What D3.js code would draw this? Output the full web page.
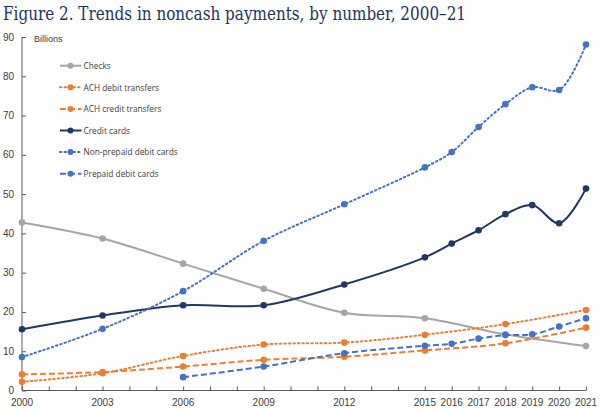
<!DOCTYPE html>
<html><head><meta charset="utf-8">
<script src="https://cdn.jsdelivr.net/npm/d3@7"></script>
<style>body{margin:0;background:#fff}svg{display:block}</style>
</head><body>
<svg id="c" width="600" height="410"></svg>
<script>
const years = [2000,2003,2006,2009,2012,2015,2016,2017,2018,2019,2020,2021];
const tickYears = [2000,2003,2006,2009,2012,2015,2016,2017,2018,2019,2020,2021];
const yTicks = [0,10,20,30,40,50,60,70,80,90];
const checksYears = [2000,2003,2006,2009,2012,2015,2018,2021];
const checks = [42.8,38.7,32.3,25.9,19.8,18.4,14.3,11.3];
const achYears = [2000,2003,2006,2009,2012,2015,2018,2021];
const achDebit = [2.2,4.4,8.8,11.7,12.2,14.2,16.9,20.5];
const achCredit = [4.1,4.7,6.1,7.8,8.6,10.2,12.0,16.0];
const creditYears = years;
const creditCards = [15.6,19.1,21.7,21.7,27.0,33.9,37.4,40.8,44.9,47.2,42.6,51.4];
const nonPrepaidYears = years;
const nonPrepaid = [8.5,15.7,25.3,38.1,47.4,56.8,60.7,67.1,72.9,77.2,76.5,88.1];
const prepaidYears = [2006,2009,2012,2015,2016,2017,2018,2019,2020,2021];
const prepaid = [3.4,6.1,9.5,11.4,11.9,13.2,14.1,14.3,16.3,18.4];

const seriesNames = ["Checks","ACH debit transfers","ACH credit transfers","Credit cards","Non-prepaid debit cards","Prepaid debit cards"];
const series = [
  {name:seriesNames[0], xs:checksYears, ys:checks, color:"#a5a5a5", dash:null},
  {name:seriesNames[1], xs:achYears, ys:achDebit, color:"#ed7d31", dash:"1.5,3"},
  {name:seriesNames[2], xs:achYears, ys:achCredit, color:"#ed7d31", dash:"6,3"},
  {name:seriesNames[3], xs:creditYears, ys:creditCards, color:"#203864", dash:null},
  {name:seriesNames[4], xs:nonPrepaidYears, ys:nonPrepaid, color:"#4472c4", dash:"1.5,3"},
  {name:seriesNames[5], xs:prepaidYears, ys:prepaid, color:"#4472c4", dash:"6,3"}
];

const svg = d3.select("#c");
const x = d3.scaleLinear().domain([2000,2021]).range([22,586]);
const y = d3.scaleLinear().domain([0,90]).range([390.5,37]);

svg.append("text").attr("x",3).attr("y",20)
  .attr("font-family","'DejaVu Serif', serif").attr("font-size",19)
  .attr("fill","#1c3664").attr("textLength",463).attr("lengthAdjust","spacingAndGlyphs")
  .text("Figure 2. Trends in noncash payments, by number, 2000\u201321");

// y axis
const yAxis = svg.append("g").attr("transform","translate(22,0)")
  .call(d3.axisRight(y).tickValues(yTicks).tickSize(4).tickFormat(d3.format("d")));
yAxis.select(".domain").attr("stroke","#595959").attr("d","M0,"+y(90)+"V"+y(0));
yAxis.selectAll(".tick line").attr("stroke","#595959");
yAxis.selectAll(".tick text").attr("x",-8).attr("dy","0.3em").attr("text-anchor","end")
  .attr("font-family","'Liberation Sans', Arial, sans-serif").attr("font-size",10).attr("fill","#404040");

// x axis
const allYears = d3.range(2000,2022);
const xAxis = svg.append("g").attr("transform","translate(0,"+y(0)+")")
  .call(d3.axisTop(x).tickValues(allYears).tickSize(4).tickFormat(""));
xAxis.select(".domain").attr("stroke","#595959").attr("d","M"+x(2000)+",0H"+x(2021));
xAxis.selectAll(".tick line").attr("stroke","#595959");
svg.append("g").selectAll("text").data(tickYears).join("text")
  .attr("x",d=>x(d)).attr("y",405.5).attr("text-anchor","middle")
  .attr("font-family","'Liberation Sans', Arial, sans-serif").attr("font-size",10).attr("fill","#404040")
  .text(d=>d);

svg.append("text").attr("x",34).attr("y",42)
  .attr("font-family","'Liberation Sans', Arial, sans-serif").attr("font-size",9).attr("fill","#404040")
  .text("Billions");

const line = d3.line().x(d=>x(d[0])).y(d=>y(d[1])).curve(d3.curveCatmullRom.alpha(0.5));
const g = svg.append("g");
series.forEach(s=>{
  const pts = s.xs.map((v,i)=>[v,s.ys[i]]);
  g.append("path").datum(pts).attr("d",line).attr("fill","none")
    .attr("stroke",s.color).attr("stroke-width",2)
    .attr("stroke-dasharray",s.dash).attr("stroke-linecap",s.dash && s.dash.startsWith("1.5")?"round":"butt");
  g.selectAll(null).data(pts).join("circle")
    .attr("cx",d=>x(d[0])).attr("cy",d=>y(d[1])).attr("r",3.3).attr("fill",s.color);
});

// legend
const leg = svg.append("g");
series.forEach((s,i)=>{
  const ly = 65.7 + i*21.6;
  leg.append("line").attr("x1",60).attr("x2",81.5).attr("y1",ly).attr("y2",ly)
    .attr("stroke",s.color).attr("stroke-width",2).attr("stroke-dasharray",s.dash)
    .attr("stroke-linecap",s.dash && s.dash.startsWith("1.5")?"round":"butt");
  leg.append("circle").attr("cx",70.5).attr("cy",ly).attr("r",3).attr("fill",s.color);
  leg.append("text").attr("x",83.5).attr("y",ly+3.2)
    .attr("font-family","'Open Sans', sans-serif").attr("font-size",8.3).attr("fill","#404040")
    .text(s.name);
});
</script>
</body></html>
